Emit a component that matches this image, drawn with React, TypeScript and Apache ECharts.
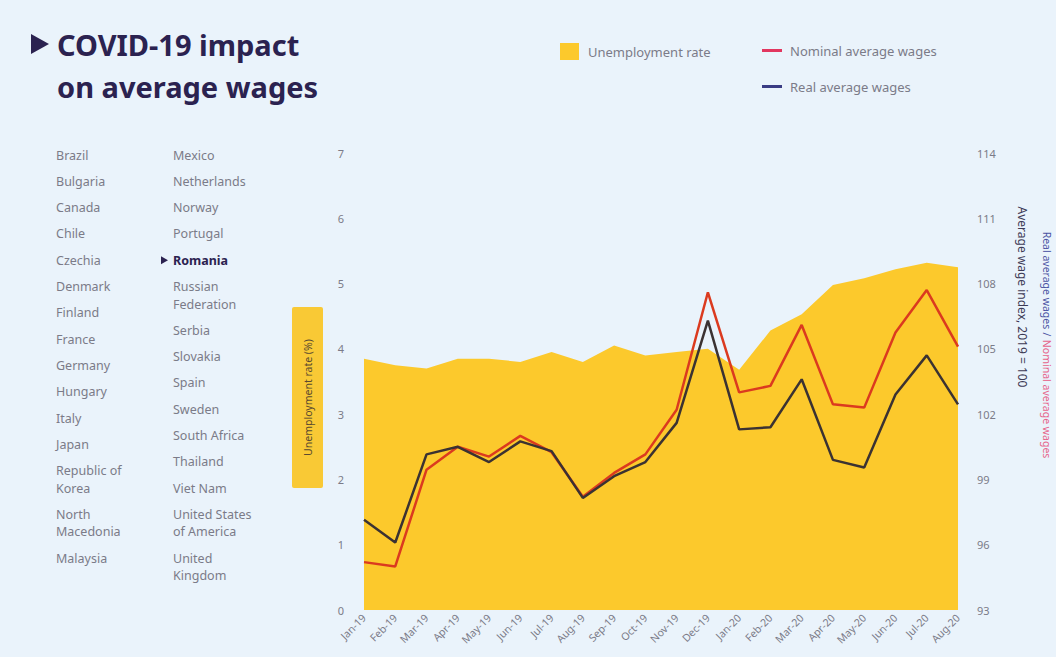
import React, { useEffect, useRef } from "react";
import * as echarts from "echarts";

const months = [
  "Jan-19", "Feb-19", "Mar-19", "Apr-19", "May-19", "Jun-19", "Jul-19", "Aug-19", "Sep-19", "Oct-19",
  "Nov-19", "Dec-19", "Jan-20", "Feb-20", "Mar-20", "Apr-20", "May-20", "Jun-20", "Jul-20", "Aug-20",
];
const unemploymentRate = [3.85, 3.75, 3.7, 3.85, 3.85, 3.8, 3.95, 3.8, 4.05, 3.9, 3.95, 4.0, 3.68, 4.28, 4.53, 4.98, 5.08, 5.22, 5.32, 5.25];
const nominalWages = [95.2, 95.0, 99.45, 100.5, 100.05, 101.0, 100.25, 98.2, 99.3, 100.15, 102.2, 107.6, 103.0, 103.3, 106.1, 102.45, 102.3, 105.75, 107.7, 105.1];
const realWages = [97.15, 96.1, 100.15, 100.5, 99.8, 100.75, 100.3, 98.15, 99.15, 99.8, 101.6, 106.3, 101.3, 101.4, 103.6, 99.9, 99.55, 102.9, 104.7, 102.45];

const countriesCol1 = [
  "Brazil", "Bulgaria", "Canada", "Chile", "Czechia", "Denmark", "Finland", "France", "Germany",
  "Hungary", "Italy", "Japan", "Republic of\nKorea", "North\nMacedonia", "Malaysia",
];
const countriesCol2 = [
  "Mexico", "Netherlands", "Norway", "Portugal", "Romania", "Russian\nFederation", "Serbia", "Slovakia",
  "Spain", "Sweden", "South Africa", "Thailand", "Viet Nam", "United States\nof America", "United\nKingdom",
];
const selectedCountry = "Romania";

const BG = "#eaf3fb";
const NAVY = "#2b2250";
const GRAY = "#7b7b88";
const YELLOW = "#fcc92c";
const RED_LINE = "#db3a1f";
const DARK_LINE = "#3b3232";
const RED_KEY = "#e2365f";
const BLUE_KEY = "#3a3c84";
const FONT = "Noto Sans";

function countryColumn(names: string[], x: number): any[] {
  const els: any[] = [];
  let y = 155;
  names.forEach((name) => {
    const lines = name.split("\n");
    const sel = name === selectedCountry;
    lines.forEach((ln, i) => {
      els.push({
        type: "text",
        x,
        y: y + i * 17.5,
        style: {
          text: ln,
          fill: sel ? NAVY : GRAY,
          font: `${sel ? "bold " : ""}12.5px '${FONT}'`,
          verticalAlign: "middle",
        },
      });
    });
    if (sel) {
      els.push({
        type: "polygon",
        shape: { points: [[x - 12, y - 4], [x - 12, y + 4], [x - 5, y]] },
        style: { fill: NAVY },
      });
    }
    y += 26.3 + (lines.length - 1) * 17.5;
  });
  return els;
}

export default function App() {
  const ref = useRef<HTMLDivElement>(null);
  useEffect(() => {
    document.body.style.margin = "0";
    document.body.style.background = BG;
    const chart = echarts.init(ref.current!, undefined, { renderer: "svg" });
    const legendText = { color: GRAY, fontSize: 13, fontFamily: FONT };
    const option: any = {
      animation: false,
      backgroundColor: BG,
      textStyle: { fontFamily: FONT },
      grid: { left: 364, right: 98, top: 153, bottom: 47, containLabel: false },
      legend: [
        {
          data: [{ name: "Unemployment rate", itemStyle: { color: YELLOW } }],
          left: 555, top: 38, icon: "rect", itemWidth: 19, itemHeight: 17,
          textStyle: { ...legendText, padding: [0, 0, 0, 4] },
        },
        {
          data: [{ name: "Nominal average wages", itemStyle: { color: RED_KEY } }],
          left: 757, top: 39, icon: "rect", itemWidth: 20, itemHeight: 3,
          textStyle: { ...legendText, padding: [0, 0, 0, 3] },
        },
        {
          data: [{ name: "Real average wages", itemStyle: { color: BLUE_KEY } }],
          left: 757, top: 75, icon: "rect", itemWidth: 20, itemHeight: 3,
          textStyle: { ...legendText, padding: [0, 0, 0, 3] },
        },
      ],
      xAxis: {
        type: "category",
        data: months,
        boundaryGap: false,
        axisLine: { show: false },
        axisTick: { show: false },
        axisLabel: { rotate: 45, interval: 0, color: GRAY, fontSize: 10.5, margin: 6, fontFamily: FONT },
      },
      yAxis: [
        {
          type: "value", min: 0, max: 7, interval: 1,
          splitLine: { show: false }, axisLine: { show: false }, axisTick: { show: false },
          axisLabel: { color: GRAY, fontSize: 11, margin: 20, fontFamily: FONT },
        },
        {
          type: "value", min: 93, max: 114, interval: 3, position: "right",
          splitLine: { show: false }, axisLine: { show: false }, axisTick: { show: false },
          axisLabel: { color: GRAY, fontSize: 11, margin: 19, fontFamily: FONT },
        },
      ],
      series: [
        {
          name: "Unemployment rate", type: "line", data: unemploymentRate, yAxisIndex: 0,
          symbol: "none", color: YELLOW, lineStyle: { width: 0 },
          areaStyle: { color: YELLOW, opacity: 1 }, z: 1,
        },
        {
          name: "Nominal average wages", type: "line", data: nominalWages, yAxisIndex: 1,
          symbol: "none", color: RED_LINE, lineStyle: { width: 2.5, color: RED_LINE }, z: 3,
        },
        {
          name: "Real average wages", type: "line", data: realWages, yAxisIndex: 1,
          symbol: "none", color: DARK_LINE, lineStyle: { width: 2.5, color: DARK_LINE }, z: 4,
        },
      ],
      graphic: [
        {
          type: "polygon",
          shape: { points: [[31, 34], [31, 54], [49, 44]] },
          style: { fill: NAVY },
        },
        {
          type: "text", x: 57, y: 44,
          style: { text: "COVID-19 impact", fill: NAVY, font: `bold 29px '${FONT}'`, verticalAlign: "middle" },
        },
        {
          type: "text", x: 57, y: 86,
          style: { text: "on average wages", fill: NAVY, font: `bold 29px '${FONT}'`, verticalAlign: "middle" },
        },
        ...countryColumn(countriesCol1, 56),
        ...countryColumn(countriesCol2, 173),
        {
          type: "rect",
          shape: { x: 292, y: 307, width: 31, height: 181, r: 2 },
          style: { fill: "#f9c935" },
        },
        {
          type: "text", x: 307.5, y: 397.5, rotation: Math.PI / 2,
          style: {
            text: "Unemployment rate (%)", fill: "#5a4a30", font: `10.5px '${FONT}'`,
            align: "center", verticalAlign: "middle",
          },
        },
        {
          type: "text", x: 1022, y: 297, rotation: -Math.PI / 2,
          style: {
            text: "Average wage index, 2019 = 100", fill: "#3d3a55", font: `12px '${FONT}'`,
            align: "center", verticalAlign: "middle",
          },
        },
        {
          type: "text", x: 1047, y: 345, rotation: -Math.PI / 2,
          style: {
            text: "{b|Real average wages} {b|/} {r|Nominal average wages}",
            align: "center", verticalAlign: "middle",
            rich: {
              b: { fill: "#4b53a3", font: `10.5px '${FONT}'` },
              r: { fill: "#e6638a", font: `10.5px '${FONT}'` },
            },
          },
        },
      ],
    };
    chart.setOption(option);
    return () => chart.dispose();
  }, []);
  return <div ref={ref} style={{ width: 1056, height: 657 }} />;
}
